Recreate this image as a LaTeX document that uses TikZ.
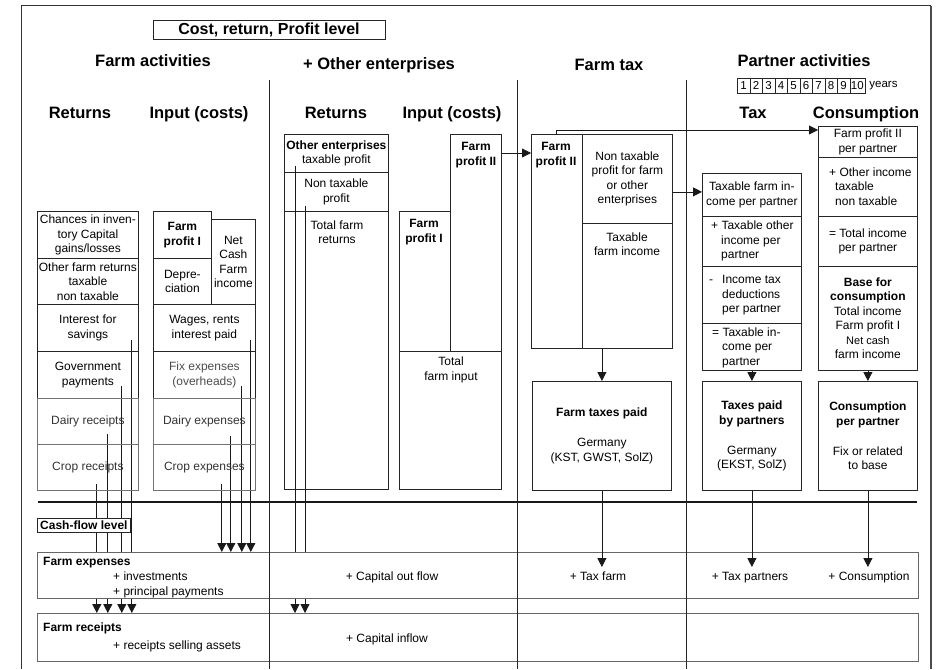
\documentclass[tikz,border=0pt]{standalone}
\usepackage{fontspec}
\setmainfont{Liberation Sans}
\usetikzlibrary{arrows.meta,backgrounds}
\tikzset{
	cell/.style={draw=black!85, line width=0.8pt, anchor=north west, inner sep=1pt, align=center, font=\fontsize{12}{14.5}\selectfont},
	pale/.style={cell, draw=black!55, text=black!80},
	note/.style={inner sep=0pt, align=center, font=\fontsize{12}{14.5}\selectfont},
	head/.style={inner sep=0pt, font=\fontsize{16.5}{19}\selectfont\bfseries, text height=12pt, text depth=3.5pt},
	yearbox/.style={draw=black!85, line width=0.7pt, anchor=north west, minimum width=12.5pt, minimum height=15pt, inner sep=0pt, font=\fontsize{11.5}{14}\selectfont},
	cashbox/.style={draw=black!60, line width=0.8pt, fill=white, anchor=north west, minimum width=881pt, inner sep=0pt},
	flow/.style={draw=black!90, line width=0.8pt, -{Triangle[width=9pt,length=9pt]}},
}
\begin{document}
\begin{tikzpicture}[x=1pt, y=-1pt]
	\useasboundingbox (0,0) rectangle (936,669);
	\draw[line width=1pt, black!80] (21,669) -- (21,6) -- (931,6);
	\draw[line width=2.5pt, black!70] (931,6) -- (931,669);

	\node[draw=black!85, line width=0.8pt, minimum width=232pt, minimum height=19pt, inner sep=0pt, font=\fontsize{16}{19}\selectfont\bfseries] (level) at (269,29.5) {Cost, return, Profit level};
	\node[head] (farmact) at (153,62) {Farm activities};
	\node[head] (otherent) at (379,65) {+ Other enterprises};
	\node[head] (farmtax) at (609,66) {Farm tax};
	\node[head] (partner) at (804,62) {Partner activities};
	\foreach \n [count=\i from 0] in {1,...,9}
		\node[yearbox] (yr\n) at (737+12.5*\i,78) {\n};
	\node[yearbox, minimum width=15pt] (yr10) at (849.5,78) {10};
	\node[anchor=west, inner sep=0pt, font=\fontsize{11.5}{13}\selectfont] (years) at ([xshift=4pt]yr10.east) {years};
	\node[head] (ret1) at (80,114) {Returns};
	\node[head] (inp1) at (199,114) {Input (costs)};
	\node[head] (ret2) at (336,114) {Returns};
	\node[head] (inp2) at (452,114) {Input (costs)};
	\node[head] (tax) at (753,114) {Tax};
	\node[head] (consum) at (866,114) {Consumption};

	\node[cell, minimum width=101pt, minimum height=47pt] (chances) at (37,211) {Chances in inven-\\tory Capital\\gains/losses};
	\node[cell, minimum width=101pt, minimum height=46pt] (othret) at (37,258) {Other farm returns\\taxable\\non taxable};
	\node[cell, minimum width=101pt, minimum height=47pt] (interest) at (37,304) {Interest for\\savings};
	\node[cell, minimum width=101pt, minimum height=47pt] (govpay) at (37,351) {Government\\payments};
	\node[pale, minimum width=101pt, minimum height=46pt] (dairyrec) at (37,398) {Dairy receipts};
	\node[pale, minimum width=101pt, minimum height=46pt] (croprec) at (37,444) {Crop receipts};

	\node[cell, minimum width=58pt, minimum height=47pt, font=\fontsize{12}{14.5}\selectfont\bfseries] (profitI) at (153,211) {Farm\\profit I};
	\node[cell, minimum width=58pt, minimum height=46pt] (deprec) at (153,258) {Depre-\\ciation};
	\node[cell, minimum width=44pt, minimum height=85pt] (netcash) at (211,219) {Net\\Cash\\Farm\\income};
	\node[cell, minimum width=102pt, minimum height=47pt] (wages) at (153,304) {Wages, rents\\interest paid};
	\node[cell, minimum width=102pt, minimum height=47pt, text=black!70] (fixexp) at (153,351) {Fix expenses\\(overheads)};
	\node[pale, minimum width=102pt, minimum height=46pt] (dairyexp) at (153,398) {Dairy expenses};
	\node[pale, minimum width=102pt, minimum height=46pt] (cropexp) at (153,444) {Crop expenses};

	\node[cell, minimum width=104pt, minimum height=38pt] (oetax) at (284,134) {\textbf{Other enterprises}\\taxable profit};
	\node[cell, minimum width=104pt, minimum height=39pt] (oenontax) at (284,172) {Non taxable\\profit};
	\node[cell, minimum width=104pt, minimum height=278pt] (totret) at (284,211) {};
	\node[note] (totrettxt) at (337,232) {Total farm\\returns};
	\node[cell, minimum width=51pt, minimum height=140pt] (oprofitI) at (399,211) {};
	\node[note, font=\fontsize{12}{14.5}\selectfont\bfseries] (oprofitItxt) at (424,232) {Farm\\profit I};
	\node[cell, minimum width=51pt, minimum height=217pt] (oprofitII) at (450,134) {};
	\node[note, font=\fontsize{12}{14.5}\selectfont\bfseries] (oprofitIItxt) at (476,155) {Farm\\profit II};
	\node[cell, minimum width=102pt, minimum height=138pt] (totinput) at (399,351) {};
	\node[note] (totinputtxt) at (451,370) {Total\\farm input};

	\node[cell, minimum width=51pt, minimum height=214pt] (tprofitII) at (531,134) {};
	\node[note, font=\fontsize{12}{14.5}\selectfont\bfseries] (tprofitIItxt) at (556,155) {Farm\\profit II};
	\node[cell, minimum width=90pt, minimum height=89pt] (nontax) at (582,134) {Non taxable\\profit for farm\\or other\\enterprises};
	\node[cell, minimum width=90pt, minimum height=125pt] (taxinc) at (582,223) {};
	\node[note] (taxinctxt) at (627,244) {Taxable\\farm income};
	\node[cell, minimum width=139pt, minimum height=109pt] (taxpaid) at (532,381) {\textbf{Farm taxes paid}\\[15.5pt]Germany\\(KST, GWST, SolZ)};

	\node[cell, minimum width=99pt, minimum height=43pt] (ptaxinc) at (702,173) {Taxable farm in-\\come per partner};
	\node[cell, minimum width=99pt, minimum height=50pt] (potherinc) at (702,216) {};
	\node[note, anchor=west, align=left] (potherinctxt) at (711,241) {+ Taxable other\\\hspace*{10pt}income per\\\hspace*{10pt}partner};
	\node[cell, minimum width=99pt, minimum height=57pt] (deduct) at (702,266) {};
	\node[note, anchor=west, align=left] (deducttxt) at (709,295.5) {\makebox[13pt][l]{-}Income tax\\\hspace*{13pt}deductions\\\hspace*{13pt}per partner};
	\node[cell, minimum width=99pt, minimum height=47pt] (ptaxable) at (702,323) {};
	\node[note, anchor=west, align=left] (ptaxabletxt) at (712,347.5) {= Taxable in-\\\hspace*{10pt}come per\\\hspace*{10pt}partner};
	\node[cell, minimum width=99pt, minimum height=109pt] (ppaid) at (702,381) {\textbf{Taxes paid}\\\textbf{by partners}\\[15.5pt]Germany\\(EKST, SolZ)};

	\node[cell, minimum width=99pt, minimum height=31pt] (cprofitII) at (818,126) {Farm profit II\\per partner};
	\node[cell, minimum width=99pt, minimum height=59pt] (cother) at (818,157) {};
	\node[note, anchor=west, align=left] (cothertxt) at (829,186.5) {+ Other income\\\hspace*{6pt}taxable\\\hspace*{6pt}non taxable};
	\node[cell, minimum width=99pt, minimum height=50pt] (ctotal) at (818,216) {= Total income\\per partner};
	\node[cell, minimum width=99pt, minimum height=104pt] (cbase) at (818,266) {\textbf{Base for}\\\textbf{consumption}\\Total income\\Farm profit I\\\fontsize{11}{13}\selectfont Net cash\\farm income};
	\node[cell, minimum width=99pt, minimum height=109pt] (cpaid) at (818,381) {\textbf{Consumption}\\\textbf{per partner}\\[15.5pt]Fix or related\\to base};

	\node[cashbox, minimum height=48pt] (receipts) at (37,613) {};
	\node[cashbox, minimum height=46pt] (expenses) at (37,552) {};
	\node[cashbox, draw=black!85, minimum width=93pt, minimum height=14pt, font=\fontsize{12}{14}\selectfont\bfseries] (cashlevel) at (37,518) {Cash-flow level};

	\coordinate (fr1) at ([xshift=-7pt,yshift=12pt]interest.south east);
	\coordinate (fr2) at ([xshift=-17pt,yshift=13pt]govpay.south east);
	\coordinate (fr3) at ([xshift=-31pt,yshift=11pt]dairyrec.south east);
	\coordinate (fr4) at ([xshift=-42pt,yshift=7pt]croprec.south east);
	\coordinate (fo1) at ([xshift=11pt,yshift=7pt]oetax.south west);
	\coordinate (fo2) at ([xshift=21pt,yshift=6pt]oenontax.south west);
	\coordinate (fi1) at ([xshift=-5pt,yshift=12pt]wages.south east);
	\coordinate (fi2) at ([xshift=-14pt,yshift=13pt]fixexp.south east);
	\coordinate (fi3) at ([xshift=-25pt,yshift=9pt]dairyexp.south east);
	\coordinate (fi4) at ([xshift=-34pt,yshift=7pt]cropexp.south east);
	\begin{scope}[on background layer]
		\foreach \f in {fr1,fr2,fr3,fr4,fo1,fo2}
			\draw[flow] (\f) -- (\f |- receipts.north);
		\foreach \f in {fi1,fi2,fi3,fi4}
			\draw[flow] (\f) -- (\f |- expenses.north);
	\end{scope}

	\draw[line width=2.2pt, black!90] (38,502) -- (917,502);
	\draw[line width=0.8pt, black!85] (269,80) -- (269,669);
	\draw[line width=0.8pt, black!85] (517,80) -- (517,669);
	\draw[line width=0.8pt, black!85] (686,80) -- (686,669);

	\draw[flow] ([yshift=-19pt]oprofitII.north east) -- ([yshift=-19pt]tprofitII.north west);
	\draw[flow] ([xshift=-1pt]tprofitII.north) |- ([yshift=-4pt]cprofitII.north west);
	\draw[flow] ([yshift=-13pt]nontax.east) -- ([yshift=-13pt]nontax.east -| ptaxinc.west);
	\draw[flow] (taxpaid.north |- taxinc.south) -- (taxpaid.north);
	\draw[flow] (ptaxable.south) -- (ppaid.north);
	\draw[flow] (cbase.south) -- (cpaid.north);
	\draw[flow] (taxpaid.south) -- ([yshift=-15pt]expenses.north -| taxpaid.south);
	\draw[flow] (ppaid.south) -- ([yshift=-15pt]expenses.north -| ppaid.south);
	\draw[flow] (cpaid.south) -- ([yshift=-15pt]expenses.north -| cpaid.south);

	\node[note, anchor=base west, font=\fontsize{12}{14.5}\selectfont\bfseries] (exptitle) at (43,565) {Farm expenses};
	\node[note, anchor=base west] (expinvest) at (113,580) {+ investments};
	\node[note, anchor=base west] (expprinc) at (113,595) {+ principal payments};
	\node[note, anchor=base] (capout) at (392,580) {+ Capital out flow};
	\node[note, anchor=base] (taxfarm) at (598,580) {+ Tax farm};
	\node[note, anchor=base] (taxpart) at (750,580) {+ Tax partners};
	\node[note, anchor=base] (consflow) at (869,580) {+ Consumption};
	\node[note, anchor=base west, font=\fontsize{12}{14.5}\selectfont\bfseries] (rectitle) at (43,631) {Farm receipts};
	\node[note, anchor=base west] (recassets) at (113,649) {+ receipts selling assets};
	\node[note, anchor=base] (capin) at (387,642) {+ Capital inflow};
\end{tikzpicture}
\end{document}
